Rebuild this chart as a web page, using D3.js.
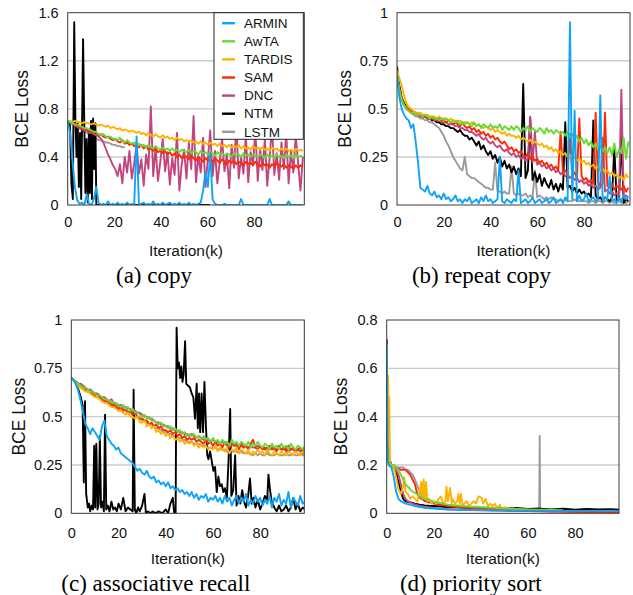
<!DOCTYPE html>
<html>
<head>
<meta charset="utf-8">
<script src="https://cdn.jsdelivr.net/npm/d3@7"></script>
<style>
  body { margin: 0; background: #fff; }
  svg { display: block; }
</style>
</head>
<body>
<svg id="chart" width="633" height="595"></svg>
<script>
// legend order; lines are drawn in reverse so ARMIN ends on top
const models = ["ARMIN", "AwTA", "TARDIS", "SAM", "DNC", "NTM", "LSTM"];
const modelColors = ["#10a4f4", "#68d936", "#ffb300", "#ff2a00", "#c2457f", "#000000", "#9a9a9a"];

const iterTicks = [0, 20, 40, 60, 80];
const copyTicks = [0, 0.4, 0.8, 1.2, 1.6];
const repeatTicks = [0, 0.25, 0.5, 0.75, 1];
const assocTicks = [0, 0.25, 0.5, 0.75, 1];
const sortTicks = [0, 0.2, 0.4, 0.6, 0.8];

// ---- (a) copy : one value per ~1k iterations ----
const copyARMIN = [
  0.70,0.60,0.38,0.15,0.04,0.01,0.02,0.00,0.09,0.01,
  0.00,0.05,0.15,0.02,0.00,0.01,0.00,0.03,0.00,0.01,
  0.00,0.02,0.00,0.01,0.00,0.02,0.00,0.01,0.00,0.57,
  0.00,0.01,0.02,0.00,0.01,0.00,0.03,0.00,0.01,0.00,
  0.02,0.00,0.01,0.02,0.00,0.01,0.00,0.02,0.00,0.01,
  0.00,0.02,0.00,0.01,0.00,0.01,0.02,0.12,0.28,0.15,
  0.43,0.05,0.01,0.00,0.00,0.00,0.01,0.00,0.00,0.00,
  0.00,0.00,0.00,0.05,0.00,0.00,0.00,0.00,0.00,0.00,
  0.00,0.00,0.00,0.00,0.00,0.05,0.00,0.00,0.00,0.00,
  0.00,0.00,0.00,0.03,0.00,0.00,0.00,0.00,0.00,0.00];
const copyAwTA = [
  0.70,0.69,0.68,0.67,0.67,0.66,0.65,0.64,0.64,0.63,
  0.62,0.61,0.61,0.59,0.58,0.59,0.57,0.56,0.57,0.55,
  0.55,0.54,0.56,0.53,0.52,0.54,0.52,0.51,0.52,0.50,
  0.51,0.49,0.50,0.48,0.50,0.48,0.47,0.49,0.47,0.46,
  0.48,0.46,0.47,0.45,0.47,0.45,0.46,0.44,0.46,0.45,
  0.44,0.46,0.43,0.45,0.44,0.42,0.45,0.43,0.44,0.42,
  0.44,0.43,0.41,0.44,0.42,0.43,0.41,0.43,0.42,0.40,
  0.43,0.41,0.42,0.40,0.43,0.41,0.42,0.40,0.42,0.41,
  0.40,0.42,0.41,0.39,0.42,0.40,0.41,0.39,0.42,0.40,
  0.41,0.39,0.42,0.40,0.41,0.39,0.42,0.40,0.41,0.40];
const copyTARDIS = [
  0.70,0.70,0.69,0.70,0.69,0.69,0.68,0.69,0.68,0.68,
  0.67,0.68,0.67,0.66,0.67,0.66,0.65,0.66,0.64,0.65,
  0.64,0.63,0.64,0.62,0.63,0.62,0.61,0.62,0.61,0.60,
  0.61,0.59,0.60,0.58,0.60,0.58,0.57,0.59,0.57,0.56,
  0.58,0.56,0.57,0.55,0.56,0.54,0.56,0.54,0.55,0.53,
  0.54,0.53,0.54,0.52,0.53,0.51,0.53,0.51,0.52,0.50,
  0.52,0.50,0.51,0.49,0.51,0.49,0.50,0.48,0.50,0.48,
  0.49,0.48,0.50,0.47,0.49,0.47,0.48,0.46,0.49,0.47,
  0.48,0.46,0.48,0.46,0.47,0.45,0.48,0.46,0.47,0.45,
  0.47,0.45,0.47,0.45,0.46,0.44,0.47,0.45,0.46,0.45];
const copySAM = [
  0.70,0.69,0.68,0.67,0.66,0.65,0.64,0.63,0.63,0.62,
  0.61,0.60,0.60,0.58,0.59,0.57,0.56,0.57,0.55,0.54,
  0.55,0.53,0.52,0.54,0.51,0.52,0.50,0.51,0.49,0.50,
  0.48,0.50,0.47,0.49,0.46,0.47,0.45,0.47,0.44,0.45,
  0.43,0.45,0.42,0.44,0.41,0.43,0.40,0.42,0.39,0.41,
  0.40,0.38,0.41,0.39,0.37,0.40,0.38,0.36,0.39,0.37,
  0.38,0.36,0.39,0.37,0.35,0.38,0.36,0.34,0.37,0.35,
  0.37,0.34,0.36,0.35,0.33,0.36,0.34,0.35,0.33,0.36,
  0.34,0.32,0.35,0.33,0.34,0.31,0.34,0.32,0.35,0.33,
  0.32,0.34,0.31,0.33,0.32,0.30,0.33,0.31,0.33,0.32];
const copyDNC = [
  0.70,0.69,0.68,0.66,0.65,0.64,0.63,0.62,0.62,0.60,
  0.60,0.59,0.58,0.57,0.55,0.52,0.47,0.42,0.38,0.33,
  0.30,0.24,0.34,0.18,0.40,0.27,0.45,0.22,0.35,0.50,
  0.26,0.38,0.16,0.42,0.30,0.82,0.24,0.48,0.20,0.36,
  0.55,0.28,0.44,0.17,0.39,0.25,0.60,0.12,0.34,0.46,
  0.22,0.52,0.30,0.74,0.19,0.41,0.27,0.56,0.15,0.38,
  0.62,0.24,0.45,0.18,0.36,0.55,0.28,0.42,0.14,0.50,
  0.31,0.67,0.22,0.40,0.26,0.58,0.19,0.44,0.33,0.62,
  0.20,0.47,0.29,0.55,0.16,0.39,0.66,0.25,0.43,0.21,
  0.52,0.30,0.60,0.18,0.45,0.27,0.58,0.35,0.12,0.40];
// [iteration(k), loss]
const copyNTM = [
  [0,0.70],[1,0.66],[1.6,0.18],[2.2,0.05],[2.8,1.52],[3.3,0.72],[3.8,0.40],[4.3,0.68],
  [4.8,0.15],[5.3,0.60],[5.8,0.05],[6.6,1.38],[7.1,0.70],[7.6,0.10],[8.1,0.55],[8.6,0.02],
  [9.1,0.62],[9.5,0.10],[10,0.70],[10.4,0.05],[10.9,0.72],[11.4,0.30],[11.9,0.68],[12.3,0],
  [30,0],[61,0]];
const copyLSTM = [
  0.70,0.68,0.67,0.66,0.65,0.64,0.62,0.61,0.60,0.59,
  0.58,0.57,0.55,0.54,0.54,0.53,0.52,0.52,0.51,0.50,
  0.50,0.49,0.49,0.48,0.48];

// ---- (b) repeat copy ----
const repeatARMIN = [
  0.68,0.56,0.50,0.47,0.45,0.44,0.40,0.42,0.33,0.22,
  0.09,0.08,0.07,0.10,0.06,0.05,0.07,0.04,0.05,0.03,
  0.06,0.03,0.04,0.02,0.03,0.05,0.02,0.03,0.01,0.03,
  0.02,0.04,0.01,0.02,0.03,0.01,0.04,0.02,0.05,0.02,
  0.03,0.01,0.02,0.03,0.25,0.02,0.01,0.03,0.02,0.01,
  0.03,0.02,0.18,0.01,0.02,0.03,0.01,0.02,0.04,0.01,
  0.02,0.03,0.01,0.02,0.03,0.01,0.02,0.04,0.01,0.02,
  0.03,0.01,0.04,0.02,0.95,0.03,0.49,0.02,0.05,0.02,
  0.03,0.06,0.02,0.03,0.04,0.02,0.03,0.57,0.02,0.04,
  0.03,0.15,0.02,0.03,0.01,0.04,0.02,0.05,0.03,0.04];
const repeatAwTA = [
  0.68,0.60,0.55,0.52,0.50,0.49,0.48,0.48,0.47,0.47,
  0.47,0.46,0.47,0.46,0.45,0.46,0.45,0.45,0.44,0.45,
  0.44,0.45,0.44,0.43,0.44,0.43,0.44,0.42,0.43,0.42,
  0.43,0.42,0.41,0.43,0.41,0.42,0.40,0.42,0.41,0.40,
  0.42,0.40,0.41,0.40,0.42,0.39,0.41,0.40,0.39,0.41,
  0.39,0.41,0.40,0.38,0.40,0.39,0.41,0.38,0.40,0.39,
  0.38,0.40,0.39,0.37,0.40,0.38,0.39,0.37,0.39,0.38,
  0.37,0.38,0.36,0.38,0.35,0.37,0.34,0.36,0.33,0.35,
  0.32,0.34,0.31,0.33,0.30,0.32,0.29,0.31,0.28,0.30,
  0.27,0.30,0.26,0.32,0.25,0.29,0.27,0.35,0.24,0.33];
const repeatTARDIS = [
  0.70,0.66,0.62,0.57,0.53,0.51,0.50,0.49,0.48,0.48,
  0.48,0.47,0.47,0.47,0.46,0.46,0.46,0.45,0.46,0.45,
  0.45,0.45,0.44,0.45,0.44,0.44,0.43,0.44,0.43,0.43,
  0.43,0.42,0.43,0.42,0.41,0.42,0.41,0.40,0.41,0.40,
  0.39,0.40,0.38,0.39,0.38,0.37,0.38,0.36,0.37,0.36,
  0.36,0.35,0.36,0.34,0.35,0.34,0.33,0.34,0.32,0.33,
  0.32,0.31,0.32,0.30,0.31,0.29,0.30,0.28,0.29,0.27,
  0.28,0.26,0.27,0.25,0.26,0.24,0.25,0.23,0.24,0.22,
  0.23,0.21,0.22,0.20,0.21,0.19,0.20,0.18,0.19,0.17,
  0.18,0.16,0.17,0.15,0.16,0.14,0.15,0.13,0.16,0.14];
const repeatSAM = [
  0.68,0.60,0.55,0.52,0.51,0.50,0.49,0.48,0.48,0.47,
  0.47,0.46,0.46,0.46,0.45,0.45,0.45,0.44,0.45,0.44,
  0.44,0.43,0.44,0.43,0.42,0.43,0.42,0.41,0.43,0.41,
  0.40,0.41,0.39,0.40,0.38,0.39,0.37,0.38,0.36,0.37,
  0.35,0.36,0.34,0.35,0.33,0.32,0.33,0.31,0.29,0.30,
  0.28,0.29,0.27,0.28,0.26,0.25,0.27,0.24,0.25,0.23,
  0.24,0.22,0.23,0.21,0.22,0.20,0.21,0.19,0.20,0.18,
  0.38,0.17,0.18,0.16,0.37,0.15,0.17,0.14,0.45,0.15,
  0.13,0.14,0.12,0.13,0.11,0.48,0.12,0.10,0.11,0.48,
  0.10,0.09,0.11,0.08,0.10,0.09,0.08,0.10,0.07,0.09];
const repeatDNC = [
  0.68,0.60,0.55,0.52,0.50,0.49,0.48,0.48,0.47,0.47,
  0.46,0.46,0.46,0.45,0.45,0.45,0.44,0.44,0.44,0.43,
  0.43,0.43,0.42,0.42,0.42,0.41,0.41,0.40,0.40,0.39,
  0.39,0.38,0.38,0.37,0.36,0.37,0.35,0.34,0.35,0.33,
  0.32,0.33,0.31,0.30,0.31,0.29,0.28,0.29,0.27,0.26,
  0.27,0.25,0.26,0.24,0.25,0.23,0.24,0.46,0.22,0.38,
  0.21,0.22,0.20,0.21,0.19,0.20,0.18,0.19,0.17,0.18,
  0.16,0.17,0.15,0.16,0.14,0.15,0.13,0.14,0.12,0.13,
  0.11,0.12,0.10,0.11,0.09,0.10,0.08,0.09,0.35,0.07,
  0.08,0.06,0.07,0.05,0.06,0.05,0.60,0.04,0.05,0.04];
const repeatNTM = [
  0.72,0.62,0.56,0.53,0.51,0.50,0.49,0.48,0.48,0.47,
  0.47,0.46,0.46,0.45,0.45,0.44,0.44,0.43,0.43,0.42,
  0.42,0.41,0.41,0.40,0.40,0.39,0.38,0.39,0.37,0.36,
  0.36,0.34,0.35,0.33,0.31,0.33,0.29,0.31,0.28,0.26,
  0.28,0.24,0.26,0.22,0.25,0.20,0.23,0.19,0.21,0.17,
  0.20,0.16,0.19,0.15,0.63,0.14,0.18,0.45,0.13,0.17,
  0.12,0.16,0.10,0.14,0.11,0.09,0.13,0.08,0.11,0.07,
  0.11,0.08,0.43,0.09,0.10,0.07,0.09,0.06,0.08,0.06,
  0.07,0.05,0.06,0.04,0.44,0.05,0.03,0.04,0.02,0.04,
  0.03,0.02,0.04,0.30,0.02,0.03,0.36,0.01,0.03,0.02];
const repeatLSTM = [
  0.68,0.60,0.55,0.52,0.50,0.49,0.48,0.47,0.46,0.46,
  0.45,0.45,0.44,0.44,0.43,0.43,0.42,0.41,0.40,0.38,
  0.36,0.33,0.31,0.28,0.25,0.23,0.21,0.19,0.18,0.25,
  0.16,0.15,0.14,0.14,0.13,0.12,0.11,0.10,0.09,0.09,
  0.08,0.08,0.22,0.07,0.07,0.06,0.07,0.06,0.06,0.20,
  0.06,0.05,0.06,0.05,0.05,0.06,0.04,0.05,0.04,0.18,
  0.04,0.05,0.04,0.03,0.04,0.03,0.04,0.03,0.03,0.02,
  0.03,0.02,0.03,0.02,0.02,0.02,0.03,0.02,0.02,0.02,
  0.02,0.02,0.01,0.02,0.02,0.01,0.02,0.02,0.01,0.02,
  0.02,0.01,0.02,0.01,0.02,0.02,0.01,0.02,0.01,0.02];

// ---- (c) associative recall ----
const assocARMIN = [
  0.70,0.69,0.67,0.63,0.58,0.52,0.46,0.44,0.41,0.44,
  0.42,0.40,0.38,0.45,0.48,0.40,0.38,0.36,0.35,0.33,
  0.34,0.31,0.30,0.29,0.28,0.27,0.26,0.24,0.22,0.23,
  0.21,0.20,0.22,0.19,0.18,0.19,0.16,0.17,0.15,0.16,
  0.14,0.16,0.13,0.14,0.12,0.13,0.11,0.12,0.10,0.11,
  0.09,0.11,0.08,0.10,0.07,0.09,0.08,0.10,0.06,0.08,
  0.07,0.09,0.06,0.08,0.05,0.09,0.06,0.08,0.04,0.07,
  0.09,0.05,0.08,0.06,0.10,0.04,0.07,0.05,0.09,0.06,
  0.08,0.04,0.07,0.05,0.09,0.03,0.08,0.06,0.10,0.04,
  0.07,0.05,0.11,0.03,0.08,0.06,0.04,0.09,0.05,0.06];
const assocAwTA = [
  0.70,0.69,0.68,0.67,0.66,0.65,0.65,0.64,0.63,0.63,
  0.62,0.61,0.61,0.60,0.59,0.59,0.58,0.58,0.57,0.57,
  0.56,0.55,0.56,0.54,0.55,0.53,0.54,0.52,0.52,0.51,
  0.50,0.51,0.49,0.50,0.48,0.48,0.47,0.46,0.47,0.45,
  0.45,0.44,0.45,0.43,0.44,0.42,0.43,0.41,0.42,0.40,
  0.41,0.40,0.41,0.39,0.40,0.38,0.40,0.38,0.39,0.37,
  0.39,0.37,0.38,0.36,0.38,0.36,0.37,0.35,0.38,0.36,
  0.37,0.35,0.37,0.36,0.35,0.37,0.34,0.36,0.35,0.37,
  0.35,0.34,0.36,0.35,0.33,0.36,0.34,0.35,0.33,0.36,
  0.34,0.35,0.33,0.36,0.34,0.33,0.35,0.34,0.33,0.35];
const assocTARDIS = [
  0.70,0.69,0.68,0.66,0.65,0.64,0.63,0.63,0.62,0.61,
  0.60,0.60,0.59,0.58,0.57,0.57,0.56,0.55,0.55,0.54,
  0.53,0.53,0.52,0.51,0.52,0.50,0.50,0.49,0.50,0.47,
  0.47,0.48,0.45,0.46,0.44,0.45,0.42,0.43,0.41,0.42,
  0.40,0.41,0.39,0.40,0.38,0.39,0.37,0.38,0.36,0.37,
  0.36,0.37,0.35,0.36,0.34,0.36,0.34,0.35,0.33,0.34,
  0.33,0.35,0.32,0.34,0.33,0.32,0.34,0.31,0.33,0.32,
  0.34,0.31,0.33,0.32,0.31,0.33,0.30,0.32,0.31,0.33,
  0.31,0.32,0.30,0.33,0.31,0.30,0.32,0.31,0.30,0.32,
  0.31,0.30,0.32,0.31,0.30,0.32,0.31,0.30,0.32,0.31];
const assocSAM = [
  0.70,0.69,0.68,0.67,0.66,0.65,0.64,0.63,0.63,0.62,
  0.61,0.61,0.60,0.59,0.58,0.58,0.57,0.56,0.56,0.55,
  0.54,0.55,0.53,0.54,0.52,0.53,0.51,0.52,0.50,0.49,
  0.49,0.48,0.48,0.46,0.47,0.45,0.46,0.44,0.45,0.43,
  0.43,0.42,0.43,0.41,0.42,0.40,0.41,0.39,0.40,0.38,
  0.39,0.38,0.39,0.37,0.38,0.37,0.36,0.38,0.36,0.37,
  0.35,0.37,0.35,0.36,0.34,0.37,0.35,0.34,0.36,0.35,
  0.35,0.33,0.36,0.34,0.35,0.33,0.36,0.38,0.34,0.33,
  0.35,0.33,0.34,0.32,0.35,0.33,0.34,0.32,0.35,0.33,
  0.34,0.32,0.35,0.33,0.34,0.32,0.33,0.34,0.31,0.33];
const assocDNC = [
  0.70,0.69,0.68,0.67,0.67,0.66,0.65,0.64,0.64,0.63,
  0.62,0.62,0.61,0.60,0.60,0.59,0.58,0.59,0.57,0.57,
  0.56,0.56,0.55,0.55,0.54,0.54,0.53,0.53,0.52,0.52,
  0.51,0.50,0.50,0.49,0.49,0.48,0.47,0.47,0.46,0.46,
  0.45,0.45,0.44,0.44,0.43,0.43,0.42,0.42,0.41,0.41,
  0.40,0.41,0.40,0.39,0.40,0.39,0.38,0.39,0.38,0.37,
  0.38,0.37,0.37,0.36,0.37,0.36,0.36,0.35,0.36,0.35,
  0.36,0.35,0.35,0.34,0.35,0.34,0.35,0.34,0.34,0.35,
  0.34,0.34,0.33,0.34,0.33,0.34,0.33,0.33,0.34,0.33,
  0.33,0.34,0.32,0.33,0.33,0.32,0.33,0.32,0.33,0.32];
const assocNTM = [
  [0,0.70],[1,0.69],[2,0.67],[3,0.64],[4,0.60],[4.8,0.56],[5.3,0.16],[5.8,0.58],[6.3,0.10],
  [7,0.03],[7.5,0.05],[8,0.01],[8.6,0.04],[9.2,0.02],[9.7,0.35],[10.1,0.03],[10.6,0.36],
  [11.1,0.02],[11.6,0.05],[12.1,0.40],[12.6,0.03],[13.2,0.06],[13.8,0.01],[14.3,0.51],
  [14.8,0.02],[15.5,0.04],[16.2,0.01],[17,0.06],[17.8,0.02],[18.5,0.03],[19.3,0.01],
  [20,0.05],[21,0.02],[22,0.08],[23,0.01],[24,0.03],[25,0.02],[26,0.01],[26.4,0.64],
  [26.9,0.02],[27.5,0.00],[28.3,0.03],[29,0.01],[30,0.04],[31,0.10],[31.6,0.00],[32.5,0.01],
  [33.5,0.00],[34.5,0.01],[35.5,0.00],[37,0.01],[38.5,0.00],[40,0.02],[41,0.00],[42,0.05],
  [43,0.08],[43.6,0.00],[44.2,0.00],[44.6,0.96],[45.1,0.75],[45.6,0.78],[46.1,0.70],
  [46.6,0.76],[47.1,0.68],[47.6,0.72],[48.2,0.89],[48.7,0.67],[49.5,0.66],[50.3,0.65],
  [51,0.62],[51.7,0.60],[52.4,0.49],[53.1,0.67],[53.6,0.44],[54.1,0.62],[54.6,0.42],
  [55.2,0.62],[55.8,0.42],[56.4,0.68],[57,0.46],[57.6,0.30],[58.1,0.28],[58.8,0.32],
  [59.5,0.27],[60.2,0.22],[60.9,0.24],[61.6,0.11],[62.3,0.19],[63,0.14],[63.7,0.15],
  [64.4,0.11],[65.1,0.13],[65.9,0.08],[66.6,0.27],[67.3,0.54],[67.8,0.09],[68.6,0.12],
  [69.4,0.30],[70,0.04],[70.8,0.09],[71.6,0.05],[72.4,0.12],[73.2,0.06],[74,0.03],
  [74.9,0.09],[75.7,0.18],[76.4,0.05],[77.2,0.08],[78,0.03],[79,0.07],[80,0.02],[81,0.05],
  [82,0.09],[83,0.07],[83.5,0.20],[84.2,0.12],[84.9,0.06],[86,0.03],[87,0.01],[88,0.04],
  [89,0.01],[90,0.02],[91,0.04],[92,0.01],[93,0.03],[94,0.08],[95,0.02],[96,0.05],
  [97,0.01],[98,0.03],[99,0.02]];
const assocLSTM = [
  0.70,0.69,0.68,0.67,0.66,0.65,0.64,0.64,0.63,0.62,
  0.62,0.61,0.60,0.60,0.59,0.58,0.58,0.57,0.56,0.56,
  0.55,0.54,0.54,0.53,0.52,0.52,0.51,0.50,0.50,0.49,
  0.48,0.48,0.47,0.46,0.46,0.45,0.44,0.44,0.43,0.42,
  0.42,0.41,0.41,0.40,0.40,0.39,0.39,0.38,0.38,0.37,
  0.37,0.37,0.36,0.36,0.36,0.35,0.35,0.35,0.34,0.34,
  0.34,0.34,0.33,0.33,0.33,0.33,0.32,0.32,0.32,0.32,
  0.32,0.31,0.32,0.31,0.31,0.31,0.31,0.30,0.31,0.30,
  0.31,0.30,0.30,0.31,0.30,0.30,0.30,0.31,0.30,0.30,
  0.30,0.31,0.30,0.30,0.31,0.30,0.30,0.31,0.30,0.30];

// ---- (d) priority sort : values at these iterations (k) ----
const sortIter = [0,0.4,1, 2,3,4,5,6,7,8,9,10,11,12,13,14,15,16,
  18,20,23,26,30,35,40,45,50,55,60, 64.8,65,65.2, 70,75,80,85,90,95,99];
const sortARMIN = [0.69,0.22,0.20, 0.19,0.15,0.09,0.06,0.05,0.045,0.04,0.038,0.035,0.033,0.03,0.028,0.026,0.025,0.023,
  0.021,0.02,0.018,0.016,0.015,0.014,0.013,0.012,0.012,0.011,0.011, 0.011,0.011,0.011,
  0.01,0.01,0.01,0.01,0.01,0.01,0.01];
const sortAwTA = [0.70,0.22,0.21, 0.20,0.20,0.19,0.18,0.16,0.14,0.12,0.11,0.10,0.09,0.085,0.078,0.072,0.067,0.062,
  0.055,0.048,0.042,0.036,0.032,0.028,0.026,0.023,0.02,0.018,0.016, 0.015,0.015,0.015,
  0.014,0.013,null,null,null,null,null];
const sortSAM = [0.70,0.22,0.20, 0.19,0.19,0.19,0.185,0.18,0.18,0.18,0.17,0.16,0.14,0.12,0.08,0.065,0.058,0.052,
  0.045,0.04,0.035,0.03,0.026,0.023,0.02,0.018,0.016,0.013,0.01, 0.009,0.009,0.009,
  0.008,0.007,0.006,0.005,0.005,0.004,0.004];
const sortDNC = [0.70,0.22,0.21, 0.20,0.19,0.18,0.16,0.12,0.08,0.06,0.05,0.045,0.04,0.037,0.034,0.031,0.029,0.027,
  0.024,0.022,0.019,0.017,0.015,0.013,0.012,0.011,0.01,0.009,0.009, 0.008,0.008,0.008,
  0.007,0.007,0.006,0.006,0.006,0.005,0.005];
const sortNTM = [0.72,0.24,0.23, 0.20,0.19,0.17,0.13,0.09,0.06,0.05,0.047,0.045,0.043,0.04,0.038,0.036,0.035,0.033,
  0.031,0.03,0.028,0.026,0.025,0.023,0.022,0.021,0.02,0.022,0.018, 0.02,0.017,0.019,
  0.016,0.019,0.015,0.018,0.016,0.017,0.015];
const sortLSTM = [0.70,0.24,0.21, 0.20,0.20,0.19,0.19,0.19,0.19,0.18,0.18,0.17,0.16,0.14,0.115,0.09,0.075,0.065,
  0.05,0.042,0.035,0.03,0.026,0.022,0.02,0.018,0.017,0.016,0.015, 0.015,0.32,0.015,
  0.014,0.013,0.013,0.012,0.012,0.012,0.012];
// [iteration(k), loss]
const sortTARDIS = [
  [0,0.70],[0.3,0.30],[0.6,0.57],[0.8,0.28],[1.1,0.48],[1.4,0.21],[2,0.20],[3,0.19],[4,0.15],
  [5,0.10],[6,0.08],[7,0.11],[7.4,0.15],[8,0.09],[9,0.08],[10,0.06],[11,0.07],[12,0.06],
  [13,0.05],[14,0.09],[14.7,0.13],[15.2,0.06],[15.7,0.14],[16.2,0.06],[16.7,0.13],[17.3,0.05],
  [18,0.06],[19,0.04],[20,0.05],[21,0.04],[22,0.06],[23,0.07],[24,0.04],[25,0.05],[25.4,0.11],
  [26,0.05],[27,0.105],[27.6,0.04],[28,0.06],[29,0.04],[30,0.05],[30.5,0.08],[31,0.04],
  [31.6,0.08],[32.2,0.03],[33,0.04],[34,0.05],[35,0.03],[36,0.04],[37,0.05],[38,0.04],
  [39,0.07],[40.3,0.065],[41,0.04],[42,0.06],[43,0.03],[44,0.04],[45,0.03],[46,0.04],
  [47,0.02],[48,0.035],[49,0.02],[50,0.025],[52,0.02],[54,0.02],[56,0.015],[58,0.015],[60,0.015]];

const panels = [
  { caption: "(a) copy", left: 67.7, right: 304.3, top: 12.7, bottom: 205, xMax: 101.6, step: 1.02,
    yMax: 1.6, yTicks: copyTicks, labelX: 28, tickPad: 12, legend: true,
    series: [copyARMIN, copyAwTA, copyTARDIS, copySAM, copyDNC, copyNTM, copyLSTM] },
  { caption: "(b) repeat copy", left: 397, right: 630, top: 12.7, bottom: 205, xMax: 99.7, step: 1,
    yMax: 1, yTicks: repeatTicks, labelX: 351, tickPad: 12,
    series: [repeatARMIN, repeatAwTA, repeatTARDIS, repeatSAM, repeatDNC, repeatNTM, repeatLSTM] },
  { caption: "(c) associative recall", left: 71.3, right: 304.3, top: 320, bottom: 513.3, xMax: 98.7, step: 1,
    yMax: 1, yTicks: assocTicks, labelX: 25, tickPad: 14,
    series: [assocARMIN, assocAwTA, assocTARDIS, assocSAM, assocDNC, assocNTM, assocLSTM] },
  { caption: "(d) priority sort", left: 386.7, right: 619, top: 320, bottom: 513.3, xMax: 98.7, grid: sortIter,
    yMax: 0.8, yTicks: sortTicks, labelX: 347, tickPad: 14,
    series: [sortARMIN, sortAwTA, sortTARDIS, sortSAM, sortDNC, sortNTM, sortLSTM] },
];

const sans = "'Liberation Sans', Arial, Helvetica, sans-serif";
const svg = d3.select("#chart");

function toPoints(p, s) {
  if (Array.isArray(s[0])) return s;
  return s.map((v, i) => [p.grid ? p.grid[i] : i * p.step, v]);
}

panels.forEach((p, k) => {
  const x = d3.scaleLinear().domain([0, p.xMax]).range([p.left, p.right]);
  const y = d3.scaleLinear().domain([0, p.yMax]).range([p.bottom, p.top]);
  const g = svg.append("g");

  svg.append("clipPath").attr("id", "clip" + k)
    .append("rect")
    .attr("x", p.left).attr("y", p.top)
    .attr("width", p.right - p.left).attr("height", p.bottom - p.top);

  // grid lines between the frame edges
  g.selectAll(".grid")
    .data(p.yTicks.slice(1, -1))
    .enter()
    .append("line")
    .attr("x1", p.left).attr("x2", p.right)
    .attr("y1", (d) => y(d)).attr("y2", (d) => y(d))
    .attr("stroke", "#cbcbcb")
    .attr("stroke-width", 1.4);

  const line = d3.line()
    .defined((d) => d[1] != null)
    .x((d) => x(d[0]))
    .y((d) => y(d[1]));

  const lines = g.append("g").attr("clip-path", `url(#clip${k})`);
  for (let i = models.length - 1; i >= 0; i--) {
    lines.append("path")
      .attr("d", line(toPoints(p, p.series[i])))
      .attr("fill", "none")
      .attr("stroke", modelColors[i])
      .attr("stroke-width", 1.9)
      .attr("stroke-linejoin", "round");
  }

  g.append("rect")
    .attr("x", p.left).attr("y", p.top)
    .attr("width", p.right - p.left).attr("height", p.bottom - p.top)
    .attr("fill", "none")
    .attr("stroke", "#3a3a3a")
    .attr("stroke-width", 1);

  const yAxis = g.append("g")
    .attr("transform", `translate(${p.left},0)`)
    .call(d3.axisLeft(y).tickValues(p.yTicks).tickSize(0).tickPadding(9).tickFormat((d) => d));
  const xAxis = g.append("g")
    .attr("transform", `translate(0,${p.bottom})`)
    .call(d3.axisBottom(x).tickValues(iterTicks).tickSize(0).tickPadding(p.tickPad));
  [yAxis, xAxis].forEach((a) => {
    a.select(".domain").remove();
    a.attr("font-family", sans).attr("font-size", 14.5);
    a.selectAll("text").attr("fill", "#111");
  });

  g.append("text")
    .attr("transform", `translate(${p.labelX},${(p.top + p.bottom) / 2}) rotate(-90)`)
    .attr("text-anchor", "middle")
    .attr("font-family", sans)
    .attr("font-size", 17.5)
    .attr("fill", "#111")
    .text("BCE Loss");

  g.append("text")
    .attr("x", (p.left + p.right) / 2)
    .attr("y", p.bottom + 51)
    .attr("text-anchor", "middle")
    .attr("font-family", sans)
    .attr("font-size", 15.5)
    .attr("fill", "#111")
    .text("Iteration(k)");

  g.append("text")
    .attr("x", (p.left + p.right) / 2 - 32)
    .attr("y", p.bottom + 78)
    .attr("text-anchor", "middle")
    .attr("font-family", "'Liberation Serif', 'Times New Roman', serif")
    .attr("font-size", 23)
    .attr("fill", "#000")
    .text(p.caption);

  if (p.legend) {
    const lg = g.append("g").attr("transform", `translate(214,${p.top})`);
    lg.append("rect")
      .attr("width", p.right - 214 - 1).attr("height", 126.6)
      .attr("fill", "#fff").attr("stroke", "#222").attr("stroke-width", 1);
    const item = lg.selectAll(".item")
      .data(models)
      .enter()
      .append("g")
      .attr("transform", (d, i) => `translate(0,${10.5 + i * 18.1})`);
    item.append("line")
      .attr("x1", 8).attr("x2", 21)
      .attr("stroke", (d, i) => modelColors[i])
      .attr("stroke-width", 2.4);
    item.append("text")
      .attr("x", 30).attr("dy", "0.35em")
      .attr("font-family", sans).attr("font-size", 13.5)
      .attr("fill", "#111")
      .text((d) => d);
  }
});
</script>
</body>
</html>
